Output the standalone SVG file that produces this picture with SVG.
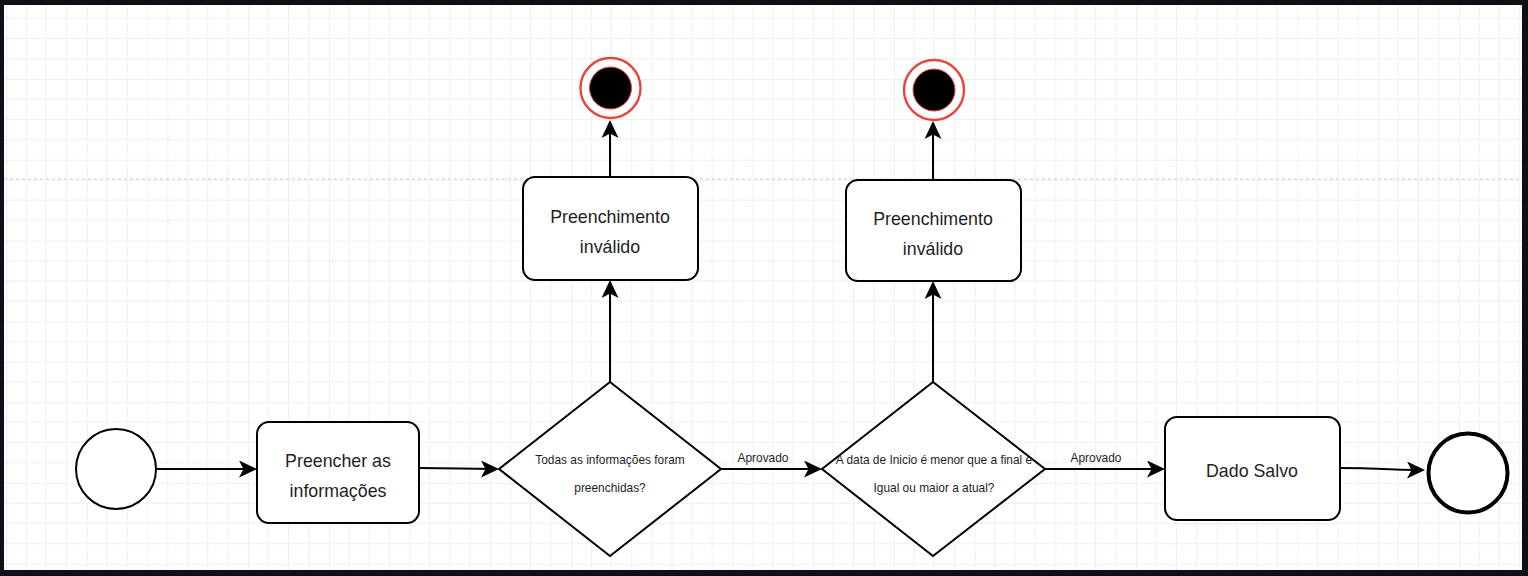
<svg xmlns="http://www.w3.org/2000/svg" width="1528" height="576" viewBox="0 0 1528 576">
<style>
.node{fill:#fff;stroke:#000;stroke-width:2}
.lbl{font-family:"Liberation Sans",Arial,sans-serif;font-size:17.8px;fill:#1e1e24;text-anchor:middle}
.sm{font-family:"Liberation Sans",Arial,sans-serif;font-size:11.9px;fill:#1e1e24;text-anchor:middle}
.edge{fill:none;stroke:#000;stroke-width:2}
.ring{fill:#fff;stroke:#e8443a;stroke-width:2.4}
.core{fill:#000;stroke:#e8443a;stroke-width:1}
</style>
<defs>
<marker id="arr" viewBox="0 0 18 17" markerWidth="18" markerHeight="17" refX="13" refY="8.5" orient="auto" markerUnits="userSpaceOnUse">
<path d="M0,0 L18,8.5 L0,17 L4.5,8.5 Z" fill="#000"/>
</marker>
<pattern id="grid" patternUnits="userSpaceOnUse" x="86.7" y="79" width="80.72" height="80.8">
<path d="M20.18,0V80.8M40.36,0V80.8M60.54,0V80.8M0,20.2H80.72M0,40.4H80.72M0,60.6H80.72" stroke="#efefef" stroke-width="1" fill="none"/>
<path d="M0,0V80.8M0,0H80.72" stroke="#e2e2e2" stroke-width="1" fill="none"/>
</pattern>
</defs>
<rect x="0" y="0" width="1528" height="576" fill="#0d1117"/>
<rect x="4" y="5" width="1518" height="565" fill="#fff"/>
<rect x="4" y="5" width="1518" height="565" fill="url(#grid)"/>
<line x1="4" y1="179" x2="1522" y2="179" stroke="#cccccc" stroke-width="1" stroke-dasharray="3 3"/>

<g id="connectors">
<path class="edge" d="M157,469 L252,469" marker-end="url(#arr)"/>
<path class="edge" d="M419,468 C459,468 459,469 494,469" marker-end="url(#arr)"/>
<path class="edge" d="M721,469 L817,469" marker-end="url(#arr)"/>
<text class="sm" x="763" y="462">Aprovado</text>
<path class="edge" d="M1045,469 L1160,469" marker-end="url(#arr)"/>
<text class="sm" x="1096" y="462">Aprovado</text>
<path class="edge" d="M1340,468 C1383,468 1383,470 1420,470" marker-end="url(#arr)"/>
<path class="edge" d="M610,382 L610,285" marker-end="url(#arr)"/>
<path class="edge" d="M610,177 L610,125" marker-end="url(#arr)"/>
<path class="edge" d="M933,382 L933,286" marker-end="url(#arr)"/>
<path class="edge" d="M933,180 L933,126" marker-end="url(#arr)"/>
</g>

<g id="start">
<circle class="node" cx="116" cy="469" r="40"/>
</g>
<g id="task-preencher">
<rect class="node" x="257" y="422" width="162" height="101" rx="12"/>
<text class="lbl" x="338" y="467">Preencher as</text>
<text class="lbl" x="338" y="497">informações</text>
</g>
<g id="gateway-todas">
<polygon class="node" points="610,382 721,469 610,556 499,469"/>
<text class="sm" x="610" y="464">Todas as informações foram</text>
<text class="sm" x="610" y="492">preenchidas?</text>
</g>
<g id="task-invalido-1">
<rect class="node" x="523" y="177" width="175" height="103" rx="12"/>
<text class="lbl" x="610" y="223">Preenchimento</text>
<text class="lbl" x="610" y="253">inválido</text>
</g>
<g id="end-invalido-1">
<circle class="ring" cx="610.5" cy="88" r="30"/>
<circle class="core" cx="610.5" cy="88" r="21"/>
</g>
<g id="gateway-data">
<polygon class="node" points="933,382 1045,469 933,556 822,469"/>
<text class="sm" x="934" y="464">A data de Inicio é menor que a final e</text>
<text class="sm" x="934" y="492">Igual ou maior a atual?</text>
</g>
<g id="task-invalido-2">
<rect class="node" x="846" y="180" width="175" height="101" rx="12"/>
<text class="lbl" x="933" y="225">Preenchimento</text>
<text class="lbl" x="933" y="255">inválido</text>
</g>
<g id="end-invalido-2">
<circle class="ring" cx="934" cy="90" r="30"/>
<circle class="core" cx="934" cy="90" r="21"/>
</g>
<g id="task-salvo">
<rect class="node" x="1165" y="417" width="175" height="103" rx="12"/>
<text class="lbl" x="1252" y="477">Dado Salvo</text>
</g>
<g id="end">
<circle cx="1468" cy="473" r="39.5" fill="#fff" stroke="#000" stroke-width="4"/>
</g>
</svg>
